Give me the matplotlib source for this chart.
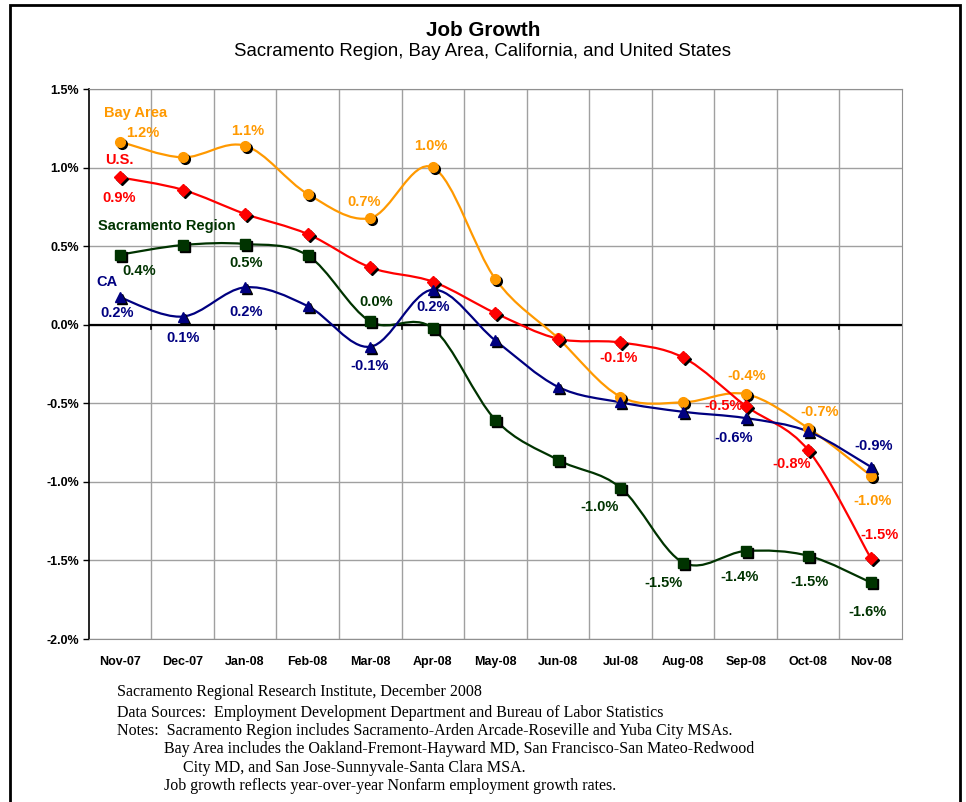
import numpy as np
import matplotlib
matplotlib.use("Agg")
import matplotlib.pyplot as plt
from matplotlib.path import Path
from matplotlib.patches import PathPatch, Rectangle
from matplotlib.transforms import offset_copy

months = ['Nov-07', 'Dec-07', 'Jan-08', 'Feb-08', 'Mar-08', 'Apr-08', 'May-08',
          'Jun-08', 'Jul-08', 'Aug-08', 'Sep-08', 'Oct-08', 'Nov-08']

bay_area = [1.165, 1.065, 1.139, 0.832, 0.679, 1.001, 0.291, -0.085, -0.458, -0.494, -0.441, -0.658, -0.96]
us = [0.938, 0.859, 0.705, 0.577, 0.365, 0.274, 0.074, -0.089, -0.113, -0.208, -0.516, -0.798, -1.485]
sacramento = [0.446, 0.507, 0.514, 0.441, 0.021, -0.023, -0.605, -0.86, -1.037, -1.513, -1.44, -1.47, -1.64]
ca = [0.174, 0.052, 0.238, 0.119, -0.14, 0.223, -0.10, -0.395, -0.494, -0.554, -0.594, -0.679, -0.904]

yticks = [1.5, 1.0, 0.5, 0.0, -0.5, -1.0, -1.5, -2.0]

# which points get a value label, and where (offset in pixels)
bay_labels = {0: (23, 9), 2: (3, 15), 4: (-6, 16), 5: (-2, 21), 10: (1, 18), 11: (11, 16), 12: (2, -25)}
us_labels = {0: (-1, -21), 8: (-2, -16), 10: (-22, 0), 11: (-17, -14), 12: (9, 23)}
sac_labels = {0: (19, -16), 2: (1, -19), 4: (6, 19), 8: (-21, -19), 9: (-20, -20),
              10: (-6, -26), 11: (1, -26), 12: (-3, -30)}
ca_labels = {0: (-3, -16), 1: (1, -21), 2: (1, -25), 4: (-1, -19), 5: (0, -17),
             10: (-12, -20), 12: (3, 21)}

series = [
    ('Bay Area', bay_area, '#FF9900', 'o', 7, bay_labels, (16, 29)),
    ('U.S.', us, '#FF0000', 'D', 6, us_labels, (-1, 17)),
    ('Sacramento Region', sacramento, '#003300', 's', 6.5, sac_labels, (47, 29)),
    ('CA', ca, '#000080', '^', 7.5, ca_labels, (-13, 15)),
]


def smooth_path(x, y):
    # excel style smoothed line: catmull-rom as cubic bezier
    pts = np.column_stack([x, y])
    n = len(pts)
    verts = [pts[0]]
    codes = [Path.MOVETO]
    for i in range(n - 1):
        p0 = pts[max(i - 1, 0)]
        p1 = pts[i]
        p2 = pts[i + 1]
        p3 = pts[min(i + 2, n - 1)]
        c1 = p1 + (p2 - p0) / 6
        c2 = p2 - (p3 - p1) / 6
        verts += [c1, c2, p2]
        codes += [Path.CURVE4] * 3
    return Path(verts, codes)


plt.rcParams['font.family'] = ['Liberation Sans', 'DejaVu Sans']
fig = plt.figure(figsize=(9.66, 8.02), dpi=100)
ax = fig.add_axes([0.0918, 0.2032, 0.842, 0.6858])

x = np.arange(len(months))
shadow = offset_copy(ax.transData, fig=fig, x=2, y=-2, units='dots')

for name, vals, color, marker, ms, labels, name_off in series:
    ax.add_patch(PathPatch(smooth_path(x, vals), fill=False, edgecolor=color, lw=1.6, zorder=3))
    ax.plot(x, vals, linestyle='none', marker=marker, markersize=ms, color='black',
            transform=shadow, zorder=4)
    ax.plot(x, vals, linestyle='none', marker=marker, markersize=ms, color=color,
            markeredgecolor=color, zorder=5)
    for i, (dx, dy) in labels.items():
        ax.annotate('%.1f%%' % vals[i], (x[i], vals[i]), xytext=(dx, dy),
                    textcoords='offset pixels', ha='center', va='center',
                    fontsize=10.5, fontweight='bold', color=color, zorder=6)
    ax.annotate(name, (x[0], vals[0]), xytext=name_off, textcoords='offset pixels',
                ha='center', va='center', fontsize=10.5, fontweight='bold',
                color=color, zorder=6)

ax.set_xlim(-0.5, len(months) - 0.5)
ax.set_ylim(-2.0, 1.5)
ax.set_yticks(yticks)
ax.set_yticklabels(['%.1f%%' % v for v in yticks], fontsize=9, fontweight='bold')
ax.set_xticks(x)
ax.set_xticklabels(months, fontsize=9, fontweight='bold')
ax.tick_params(axis='x', length=0, pad=12)
ax.tick_params(axis='y', length=4, width=1, direction='out', color='black', pad=3)

# grid
ax.set_xticks(np.arange(0.5, len(months) - 0.5, 1), minor=True)
ax.grid(which='minor', axis='x', color='#A0A0A0', lw=1)
ax.grid(which='major', axis='y', color='#A0A0A0', lw=1)
ax.tick_params(axis='x', which='minor', length=0)
ax.set_axisbelow(True)

for s in ['top', 'right', 'bottom']:
    ax.spines[s].set_color('#909090')
ax.spines['left'].set_color('black')
ax.spines['left'].set_linewidth(1.2)

# zero axis with tick marks
ax.axhline(0, color='black', lw=1.6, zorder=2)
for b in np.arange(0.5, len(months) - 0.5, 1):
    ax.plot([b, b], [0, -0.03], color='black', lw=1.2, zorder=2)

fig.text(0.5, 1 - 31 / 802, 'Job Growth', ha='center', va='center',
         fontsize=14.9, fontweight='bold')
fig.text(0.5, 1 - 52 / 802, 'Sacramento Region, Bay Area, California, and United States',
         ha='center', va='center', fontsize=13.4)

notes = [
    (117, 692, 'Sacramento Regional Research Institute, December 2008'),
    (117, 713, 'Data Sources:  Employment Development Department and Bureau of Labor Statistics'),
    (117, 731, 'Notes:  Sacramento Region includes Sacramento-Arden Arcade-Roseville and Yuba City MSAs.'),
    (164, 749, 'Bay Area includes the Oakland-Fremont-Hayward MD, San Francisco-San Mateo-Redwood'),
    (183, 768, 'City MD, and San Jose-Sunnyvale-Santa Clara MSA.'),
    (164, 786, 'Job growth reflects year-over-year Nonfarm employment growth rates.'),
]
for nx, ny, t in notes:
    fig.text(nx / 966, 1 - ny / 802, t, ha='left', va='center', fontsize=11.5,
             family='Liberation Serif')

# outer frame
fig.patches.append(Rectangle((10 / 966, -0.05), 950 / 966, 1.05 - 5 / 802,
                             transform=fig.transFigure, fill=False,
                             edgecolor='black', lw=2))

fig.savefig('out.png', dpi=100)
